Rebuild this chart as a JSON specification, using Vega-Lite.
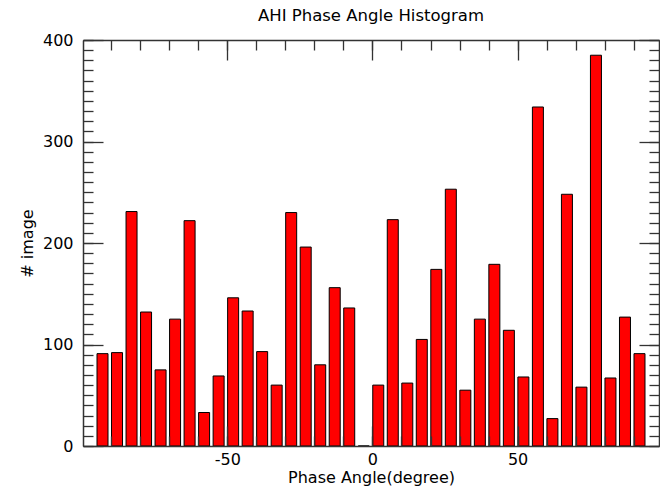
{
  "$schema": "https://vega.github.io/schema/vega-lite/v6.json",
  "width": 576,
  "height": 406,
  "autosize": "none",
  "padding": {"left": 83, "top": 40, "right": 1, "bottom": 40},
  "background": "white",
  "title": {
    "text": "AHI Phase Angle Histogram",
    "font": "DejaVu Sans",
    "fontSize": 16.5,
    "fontWeight": "normal",
    "color": "#000",
    "anchor": "middle",
    "offset": 8
  },
  "data": {
    "values": [
      {"angle": -93, "count": 91},
      {"angle": -88, "count": 92},
      {"angle": -83, "count": 231},
      {"angle": -78, "count": 132},
      {"angle": -73, "count": 75},
      {"angle": -68, "count": 125},
      {"angle": -63, "count": 222},
      {"angle": -58, "count": 33},
      {"angle": -53, "count": 69},
      {"angle": -48, "count": 146},
      {"angle": -43, "count": 133},
      {"angle": -38, "count": 93},
      {"angle": -33, "count": 60},
      {"angle": -28, "count": 230},
      {"angle": -23, "count": 196},
      {"angle": -18, "count": 80},
      {"angle": -13, "count": 156},
      {"angle": -8, "count": 136},
      {"angle": -3, "count": 0},
      {"angle": 2, "count": 60},
      {"angle": 7, "count": 223},
      {"angle": 12, "count": 62},
      {"angle": 17, "count": 105},
      {"angle": 22, "count": 174},
      {"angle": 27, "count": 253},
      {"angle": 32, "count": 55},
      {"angle": 37, "count": 125},
      {"angle": 42, "count": 179},
      {"angle": 47, "count": 114},
      {"angle": 52, "count": 68},
      {"angle": 57, "count": 334},
      {"angle": 62, "count": 27},
      {"angle": 67, "count": 248},
      {"angle": 72, "count": 58},
      {"angle": 77, "count": 385},
      {"angle": 82, "count": 67},
      {"angle": 87, "count": 127},
      {"angle": 92, "count": 91}
    ]
  },
  "layer": [
    {
      "mark": {"type": "bar", "fill": "#ff0000", "stroke": "#000", "strokeWidth": 1, "size": 11, "orient": "vertical"},
      "encoding": {
        "x": {
          "field": "angle", "type": "quantitative",
          "scale": {"domain": [-98, 97], "nice": false, "zero": false},
          "axis": {"orient": "bottom", "values": [-50, 0, 50], "labelExpr": "datum.value < 0 ? '-' + abs(datum.value) : '' + datum.value", "tickSize": -20, "labelPadding": 25, "grid": false, "title": "Phase Angle(degree)", "titlePadding": 2, "zindex": 2}
        },
        "y": {
          "field": "count", "type": "quantitative", "stack": null,
          "scale": {"domain": [0, 400], "nice": false},
          "axis": {"orient": "left", "values": [0, 100, 200, 300, 400], "tickSize": -20, "labelPadding": 30, "grid": false, "title": "# image", "titlePadding": 7, "zindex": 2}
        }
      }
    },
    {
      "mark": {"type": "bar", "opacity": 0, "size": 11, "orient": "vertical"},
      "encoding": {
        "x": {"field": "angle", "type": "quantitative",
          "axis": {"orient": "top", "values": [-50, 0, 50], "tickSize": -20, "labels": false, "grid": false, "title": null, "zindex": 2}},
        "y": {"field": "count", "type": "quantitative", "stack": null,
          "axis": {"orient": "right", "values": [0, 100, 200, 300, 400], "tickSize": -20, "labels": false, "grid": false, "title": null, "zindex": 2}}
      }
    },
    {
      "mark": {"type": "bar", "opacity": 0, "size": 11, "orient": "vertical"},
      "encoding": {
        "x": {"field": "angle", "type": "quantitative",
          "axis": {"orient": "bottom", "values": [-90, -80, -70, -60, -50, -40, -30, -20, -10, 0, 10, 20, 30, 40, 50, 60, 70, 80, 90], "tickSize": -10, "labels": false, "domain": false, "grid": false, "title": null, "zindex": 2}},
        "y": {"field": "count", "type": "quantitative", "stack": null,
          "axis": {"orient": "left", "values": [0, 10, 20, 30, 40, 50, 60, 70, 80, 90, 100, 110, 120, 130, 140, 150, 160, 170, 180, 190, 200, 210, 220, 230, 240, 250, 260, 270, 280, 290, 300, 310, 320, 330, 340, 350, 360, 370, 380, 390, 400], "tickSize": -10, "labels": false, "domain": false, "grid": false, "title": null, "zindex": 2}}
      }
    },
    {
      "mark": {"type": "bar", "opacity": 0, "size": 11, "orient": "vertical"},
      "encoding": {
        "x": {"field": "angle", "type": "quantitative",
          "axis": {"orient": "top", "values": [-90, -80, -70, -60, -50, -40, -30, -20, -10, 0, 10, 20, 30, 40, 50, 60, 70, 80, 90], "tickSize": -10, "labels": false, "domain": false, "grid": false, "title": null, "zindex": 2}},
        "y": {"field": "count", "type": "quantitative", "stack": null,
          "axis": {"orient": "right", "values": [0, 10, 20, 30, 40, 50, 60, 70, 80, 90, 100, 110, 120, 130, 140, 150, 160, 170, 180, 190, 200, 210, 220, 230, 240, 250, 260, 270, 280, 290, 300, 310, 320, 330, 340, 350, 360, 370, 380, 390, 400], "tickSize": -10, "labels": false, "domain": false, "grid": false, "title": null, "zindex": 2}}
      }
    }
  ],
  "resolve": {"axis": {"x": "independent", "y": "independent"}},
  "config": {
    "view": {"stroke": null},
    "axis": {
      "domainColor": "#333",
      "domainWidth": 1.5,
      "tickColor": "#333",
      "tickWidth": 1.3,
      "labelColor": "#000",
      "titleColor": "#000",
      "labelFont": "DejaVu Sans",
      "titleFont": "DejaVu Sans",
      "labelFontSize": 16,
      "titleFontSize": 16,
      "titleFontWeight": "normal",
      "labelFlush": false,
      "labelOverlap": false
    }
  }
}
